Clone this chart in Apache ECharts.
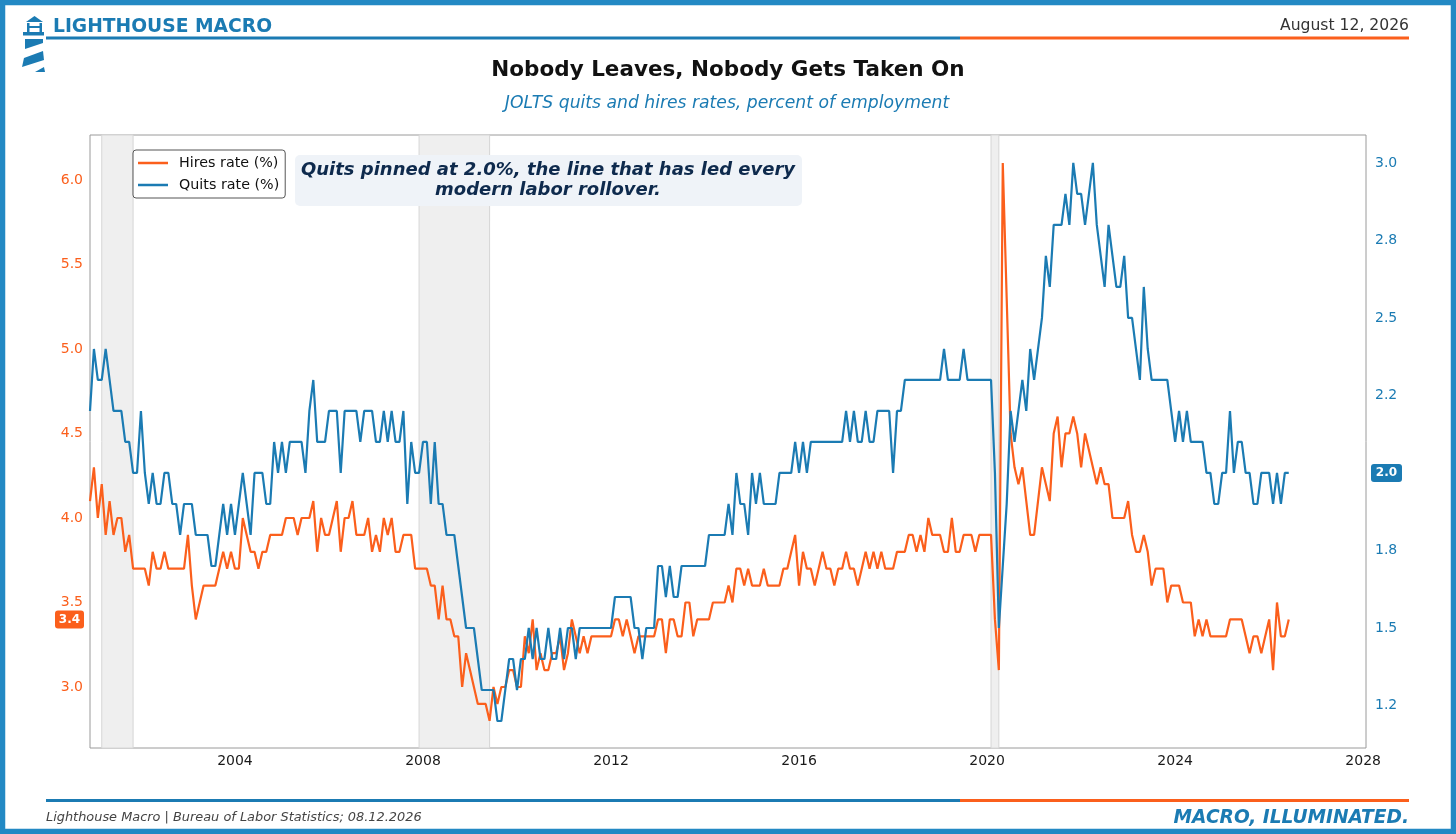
<!DOCTYPE html>
<html>
<head>
<meta charset="utf-8">
<script src="https://cdn.jsdelivr.net/npm/echarts@6/dist/echarts.min.js"></script>
<style>
html,body{margin:0;padding:0;background:#fff;}
#c{width:1456px;height:834px;}
</style>
</head>
<body>
<div id="c"></div>
<script>
// ---------- DATA ----------
const startYear = 2000;
const startMonth = 12; // December 2000
const hires = [
4.1,4.3,4.0,4.2,3.9,4.1,3.9,4.0,4.0,3.8,
3.9,3.7,3.7,3.7,3.7,3.6,3.8,3.7,3.7,3.8,
3.7,3.7,3.7,3.7,3.7,3.9,3.6,3.4,3.5,3.6,
3.6,3.6,3.6,3.7,3.8,3.7,3.8,3.7,3.7,4.0,
3.9,3.8,3.8,3.7,3.8,3.8,3.9,3.9,3.9,3.9,
4.0,4.0,4.0,3.9,4.0,4.0,4.0,4.1,3.8,4.0,
3.9,3.9,4.0,4.1,3.8,4.0,4.0,4.1,3.9,3.9,
3.9,4.0,3.8,3.9,3.8,4.0,3.9,4.0,3.8,3.8,
3.9,3.9,3.9,3.7,3.7,3.7,3.7,3.6,3.6,3.4,
3.6,3.4,3.4,3.3,3.3,3.0,3.2,3.1,3.0,2.9,
2.9,2.9,2.8,3.0,2.9,3.0,3.0,3.1,3.1,3.0,
3.0,3.3,3.2,3.4,3.1,3.2,3.1,3.1,3.2,3.2,
3.3,3.1,3.2,3.4,3.3,3.2,3.3,3.2,3.3,3.3,
3.3,3.3,3.3,3.3,3.4,3.4,3.3,3.4,3.3,3.2,
3.3,3.3,3.3,3.3,3.3,3.4,3.4,3.2,3.4,3.4,
3.3,3.3,3.5,3.5,3.3,3.4,3.4,3.4,3.4,3.5,
3.5,3.5,3.5,3.6,3.5,3.7,3.7,3.6,3.7,3.6,
3.6,3.6,3.7,3.6,3.6,3.6,3.6,3.7,3.7,3.8,
3.9,3.6,3.8,3.7,3.7,3.6,3.7,3.8,3.7,3.7,
3.6,3.7,3.7,3.8,3.7,3.7,3.6,3.7,3.8,3.7,
3.8,3.7,3.8,3.7,3.7,3.7,3.8,3.8,3.8,3.9,
3.9,3.8,3.9,3.8,4.0,3.9,3.9,3.9,3.8,3.8,
4.0,3.8,3.8,3.9,3.9,3.9,3.8,3.9,3.9,3.9,
3.9,3.4,3.1,6.1,5.3,4.5,4.3,4.2,4.3,4.1,
3.9,3.9,4.1,4.3,4.2,4.1,4.5,4.6,4.3,4.5,
4.5,4.6,4.5,4.3,4.5,4.4,4.3,4.2,4.3,4.2,
4.2,4.0,4.0,4.0,4.0,4.1,3.9,3.8,3.8,3.9,
3.8,3.6,3.7,3.7,3.7,3.5,3.6,3.6,3.6,3.5,
3.5,3.5,3.3,3.4,3.3,3.4,3.3,3.3,3.3,3.3,
3.3,3.4,3.4,3.4,3.4,3.3,3.2,3.3,3.3,3.2,
3.3,3.4,3.1,3.5,3.3,3.3,3.4
];
const quits = [
2.2,2.4,2.3,2.3,2.4,2.3,2.2,2.2,2.2,2.1,
2.1,2.0,2.0,2.2,2.0,1.9,2.0,1.9,1.9,2.0,
2.0,1.9,1.9,1.8,1.9,1.9,1.9,1.8,1.8,1.8,
1.8,1.7,1.7,1.8,1.9,1.8,1.9,1.8,1.9,2.0,
1.9,1.8,2.0,2.0,2.0,1.9,1.9,2.1,2.0,2.1,
2.0,2.1,2.1,2.1,2.1,2.0,2.2,2.3,2.1,2.1,
2.1,2.2,2.2,2.2,2.0,2.2,2.2,2.2,2.2,2.1,
2.2,2.2,2.2,2.1,2.1,2.2,2.1,2.2,2.1,2.1,
2.2,1.9,2.1,2.0,2.0,2.1,2.1,1.9,2.1,1.9,
1.9,1.8,1.8,1.8,1.7,1.6,1.5,1.5,1.5,1.4,
1.3,1.3,1.3,1.3,1.2,1.2,1.3,1.4,1.4,1.3,
1.4,1.4,1.5,1.4,1.5,1.4,1.4,1.5,1.4,1.4,
1.5,1.4,1.5,1.5,1.4,1.5,1.5,1.5,1.5,1.5,
1.5,1.5,1.5,1.5,1.6,1.6,1.6,1.6,1.6,1.5,
1.5,1.4,1.5,1.5,1.5,1.7,1.7,1.6,1.7,1.6,
1.6,1.7,1.7,1.7,1.7,1.7,1.7,1.7,1.8,1.8,
1.8,1.8,1.8,1.9,1.8,2.0,1.9,1.9,1.8,2.0,
1.9,2.0,1.9,1.9,1.9,1.9,2.0,2.0,2.0,2.0,
2.1,2.0,2.1,2.0,2.1,2.1,2.1,2.1,2.1,2.1,
2.1,2.1,2.1,2.2,2.1,2.2,2.1,2.1,2.2,2.1,
2.1,2.2,2.2,2.2,2.2,2.0,2.2,2.2,2.3,2.3,
2.3,2.3,2.3,2.3,2.3,2.3,2.3,2.3,2.4,2.3,
2.3,2.3,2.3,2.4,2.3,2.3,2.3,2.3,2.3,2.3,
2.3,2.0,1.5,1.7,1.9,2.2,2.1,2.2,2.3,2.2,
2.4,2.3,2.4,2.5,2.7,2.6,2.8,2.8,2.8,2.9,
2.8,3.0,2.9,2.9,2.8,2.9,3.0,2.8,2.7,2.6,
2.8,2.7,2.6,2.6,2.7,2.5,2.5,2.4,2.3,2.6,
2.4,2.3,2.3,2.3,2.3,2.3,2.2,2.1,2.2,2.1,
2.2,2.1,2.1,2.1,2.1,2.0,2.0,1.9,1.9,2.0,
2.0,2.2,2.0,2.1,2.1,2.0,2.0,1.9,1.9,2.0,
2.0,2.0,1.9,2.0,1.9,2.0,2.0
];
const seriesNames = ['Hires rate (%)', 'Quits rate (%)'];
const xTickValues = [2004, 2008, 2012, 2016, 2020, 2024, 2028];
const hiresTickValues = [3.0, 3.5, 4.0, 4.5, 5.0, 5.5, 6.0];
const hiresTickLabels = ['3.0', '3.5', '4.0', '4.5', '5.0', '5.5', '6.0'];
const quitsTickValues = [1.25, 1.5, 1.75, 2.0, 2.25, 2.5, 2.75, 3.0];
const quitsTickLabels = ['1.2', '1.5', '1.8', '2.0', '2.2', '2.5', '2.8', '3.0'];
// recessions: [start, end] in decimal years (Mar–Nov 2001, Dec 2007–Jun 2009, Feb–Apr 2020)
const recessions = [[2001 + 2/12, 2001 + 10/12], [2007 + 11/12, 2009 + 5/12], [2020 + 1/12, 2020 + 3/12]];
const titleText = 'Nobody Leaves, Nobody Gets Taken On';
const subtitleText = 'JOLTS quits and hires rates, percent of employment';
const annotationLines = ['Quits pinned at 2.0%, the line that has led every', 'modern labor rollover.'];
const brandText = 'LIGHTHOUSE MACRO';
const dateText = 'August 12, 2026';
const sourceText = 'Lighthouse Macro | Bureau of Labor Statistics; 08.12.2026';
const taglineText = 'MACRO, ILLUMINATED.';

// ---------- STYLE ----------
const FONT = '"DejaVu Sans", "Noto Sans", sans-serif';
const BLUE = '#1b7bb3';
const FRAME = '#2389c4';
const ORANGE = '#fb5f1c';

const toX = i => startYear + (startMonth - 1 + i) / 12;
const hiresData = hires.map((v, i) => [toX(i), v]);
const quitsData = quits.map((v, i) => [toX(i), v]);
const labelFrom = (vals, labels) => v => {
  const k = vals.findIndex(t => Math.abs(t - v) < 1e-6);
  return k >= 0 ? labels[k] : '';
};

const chart = echarts.init(document.getElementById('c'), null, {renderer: 'canvas'});

const option = {
  animation: false,
  backgroundColor: '#ffffff',
  textStyle: {fontFamily: FONT},
  grid: {left: 90, top: 135, width: 1276, height: 613, show: true, borderColor: '#9a9a9a', borderWidth: 1, backgroundColor: 'transparent'},
  legend: {
    data: seriesNames,
    orient: 'vertical',
    left: 133, top: 150,
    padding: [6, 6, 6, 5],
    itemGap: 8,
    itemWidth: 30, itemHeight: 2.5,
    icon: 'rect',
    backgroundColor: '#ffffff',
    borderColor: '#555555', borderWidth: 1, borderRadius: 3,
    textStyle: {fontFamily: FONT, fontSize: 14.3, color: '#111', padding: [0, 0, 0, 6]}
  },
  xAxis: {
    type: 'value', min: toX(0), max: 2028.06,
    axisLine: {show: false}, axisTick: {show: false}, splitLine: {show: false},
    axisLabel: {customValues: xTickValues, formatter: v => String(Math.round(v)), color: '#1a1a1a', fontSize: 14, fontFamily: FONT, margin: 6}
  },
  yAxis: [
    {
      type: 'value', position: 'left', min: 2.639, max: 6.266,
      axisLine: {show: false}, axisTick: {show: false}, splitLine: {show: false},
      axisLabel: {customValues: hiresTickValues, formatter: labelFrom(hiresTickValues, hiresTickLabels), color: ORANGE, fontSize: 14, fontFamily: FONT, margin: 7}
    },
    {
      type: 'value', position: 'right', min: 1.113, max: 3.09,
      axisLine: {show: false}, axisTick: {show: false}, splitLine: {show: false},
      axisLabel: {customValues: quitsTickValues, formatter: labelFrom(quitsTickValues, quitsTickLabels), color: BLUE, fontSize: 14, fontFamily: FONT, margin: 9}
    }
  ],
  series: [
    {
      name: seriesNames[0], type: 'line', yAxisIndex: 0, data: hiresData,
      symbol: 'none', showSymbol: false,
      lineStyle: {color: ORANGE, width: 2.2}, itemStyle: {color: ORANGE},
      z: 3,
      markArea: {
        silent: true,
        itemStyle: {color: '#efefef', borderColor: '#d6d6d6', borderWidth: 1},
        data: recessions.map(r => [{xAxis: r[0]}, {xAxis: r[1]}])
      }
    },
    {
      name: seriesNames[1], type: 'line', yAxisIndex: 1, data: quitsData,
      symbol: 'none', showSymbol: false,
      lineStyle: {color: BLUE, width: 2.2}, itemStyle: {color: BLUE},
      z: 4
    }
  ]
};
chart.setOption(option);

// ---------- DECORATION ----------
const yH = chart.convertToPixel({yAxisIndex: 0}, hires[hires.length - 1]);
const yQ = chart.convertToPixel({yAxisIndex: 1}, quits[quits.length - 1]);

function txt(x, y, text, font, fill, align) {
  return {type: 'text', x: x, y: y, z: 100, style: {text: text, font: font, fill: fill, textAlign: align || 'left', textVerticalAlign: 'middle', verticalAlign: 'middle'}};
}
function badge(x, y, w, color, text) {
  return [
    {type: 'rect', z: 100, shape: {x: x, y: y - 9, width: w, height: 18, r: 3}, style: {fill: color}},
    txt(x + w / 2, y, text, 'bold 12px ' + FONT, '#ffffff', 'center')
  ];
}

const graphics = [
  // outer frame
  {type: 'rect', z: 100, shape: {x: 2.5, y: 2.5, width: 1451, height: 829}, style: {fill: 'none', stroke: FRAME, lineWidth: 5.5}},
  // logo
  {type: 'polygon', z: 100, shape: {points: [[26, 22], [34.5, 16], [43, 22]]}, style: {fill: BLUE}},
  {type: 'rect', z: 100, shape: {x: 27, y: 23, width: 2.5, height: 9}, style: {fill: BLUE}},
  {type: 'rect', z: 100, shape: {x: 39.5, y: 23, width: 2.5, height: 9}, style: {fill: BLUE}},
  {type: 'rect', z: 100, shape: {x: 29, y: 26, width: 11, height: 2}, style: {fill: BLUE}},
  {type: 'rect', z: 100, shape: {x: 23, y: 32, width: 21, height: 3.5}, style: {fill: BLUE}},
  {type: 'polygon', z: 100, shape: {points: [[25, 39], [43, 39], [43, 43], [25, 49]]}, style: {fill: BLUE}},
  {type: 'polygon', z: 100, shape: {points: [[24, 58], [43, 51], [44, 60], [22, 67]]}, style: {fill: BLUE}},
  {type: 'polygon', z: 100, shape: {points: [[35, 72], [44, 67], [45, 72]]}, style: {fill: BLUE}},
  // header
  txt(53, 27, brandText, 'bold 18.7px ' + FONT, BLUE, 'left'),
  txt(1409, 26, dateText, '15.6px ' + FONT, '#333333', 'right'),
  {type: 'rect', z: 100, shape: {x: 46, y: 36.5, width: 914, height: 3}, style: {fill: BLUE}},
  {type: 'rect', z: 100, shape: {x: 960, y: 36.5, width: 449, height: 3}, style: {fill: ORANGE}},
  // titles
  txt(728, 70, titleText, 'bold 21.5px ' + FONT, '#111111', 'center'),
  txt(727, 104, subtitleText, 'italic 17.2px ' + FONT, BLUE, 'center'),
  // annotation
  {type: 'rect', z: 100, shape: {x: 295, y: 155, width: 507, height: 51, r: 5}, style: {fill: '#eff3f8'}},
  txt(548, 170, annotationLines[0], 'italic bold 18px ' + FONT, '#0e2a4d', 'center'),
  txt(548, 190, annotationLines[1], 'italic bold 18px ' + FONT, '#0e2a4d', 'center'),
  // footer
  {type: 'rect', z: 100, shape: {x: 46, y: 799, width: 914, height: 3}, style: {fill: BLUE}},
  {type: 'rect', z: 100, shape: {x: 960, y: 799, width: 449, height: 3}, style: {fill: ORANGE}},
  txt(46, 818, sourceText, 'italic 12.9px ' + FONT, '#444444', 'left'),
  txt(1409, 818, taglineText, 'italic bold 18.6px ' + FONT, BLUE, 'right')
].concat(
  badge(55, yH, 29, ORANGE, hires[hires.length - 1].toFixed(1)),
  badge(1371, yQ, 31, BLUE, quits[quits.length - 1].toFixed(1))
);

chart.setOption({graphic: graphics});
</script>
</body>
</html>
